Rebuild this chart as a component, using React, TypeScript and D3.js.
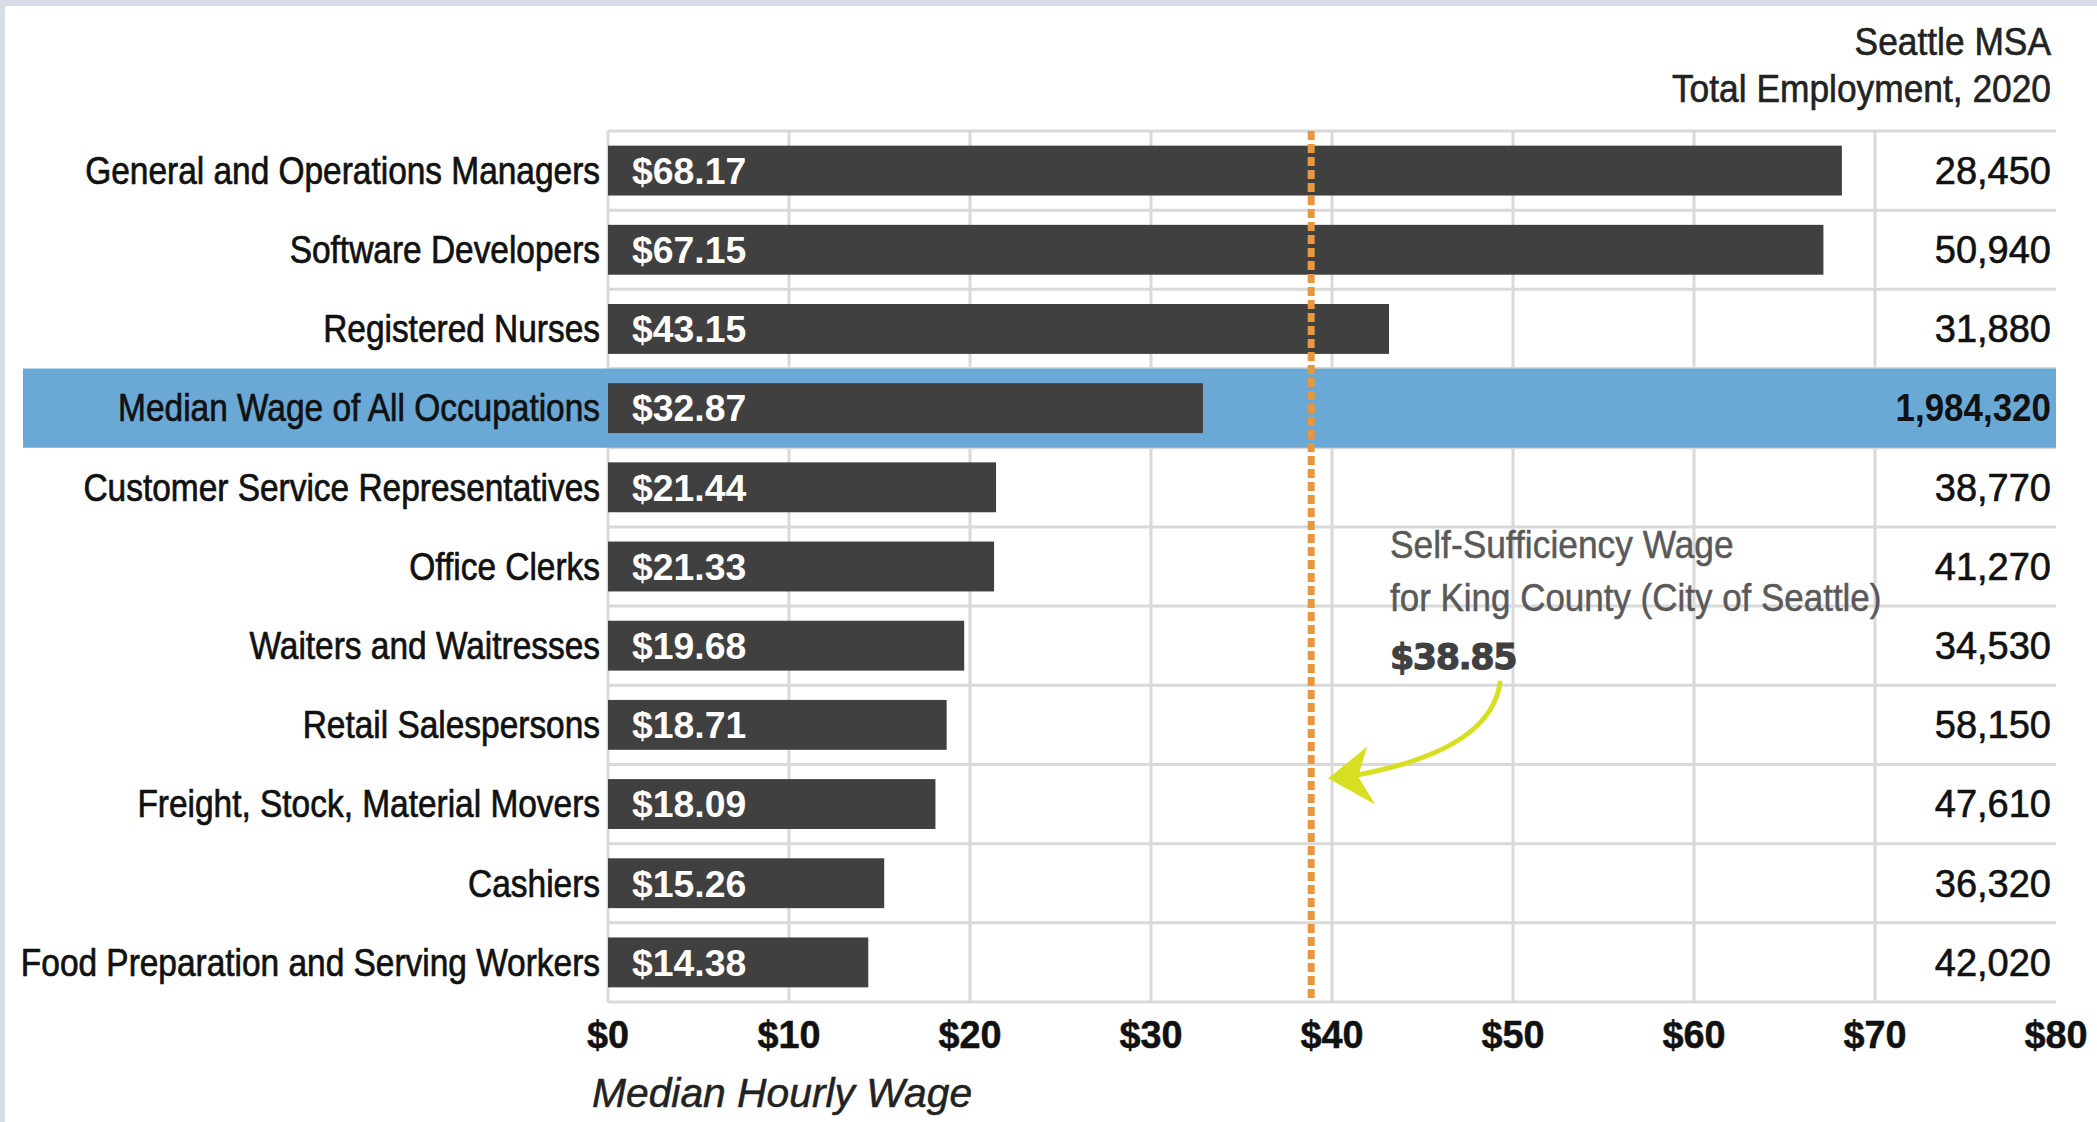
import * as d3 from "d3";
import type { ReactNode } from "react";

const categories = [
  "General and Operations Managers",
  "Software Developers",
  "Registered Nurses",
  "Median Wage of All Occupations",
  "Customer Service Representatives",
  "Office Clerks",
  "Waiters and Waitresses",
  "Retail Salespersons",
  "Freight, Stock, Material Movers",
  "Cashiers",
  "Food Preparation and Serving Workers",
];
const wages = [68.17, 67.15, 43.15, 32.87, 21.44, 21.33, 19.68, 18.71, 18.09, 15.26, 14.38];
const employment = [28450, 50940, 31880, 1984320, 38770, 41270, 34530, 58150, 47610, 36320, 42020];
const highlightCategory = "Median Wage of All Occupations";
const xTicks = [0, 10, 20, 30, 40, 50, 60, 70, 80];
const selfSufficiencyWage = 38.85;

const W = 2097;
const H = 1122;
const FONT = "'Liberation Sans', Arial, sans-serif";

// condensed look: the reference uses a narrow gothic face, so squeeze Liberation Sans horizontally
function T({
  x,
  y,
  sx = 1,
  anchor = "start",
  weight = 0,
  fill = "#111",
  children,
  ...rest
}: {
  x: number;
  y: number;
  sx?: number;
  anchor?: "start" | "middle" | "end";
  weight?: number;
  fill?: string;
  children: ReactNode;
  [k: string]: any;
}) {
  return (
    <text
      transform={`translate(${x},${y}) scale(${sx},1)`}
      textAnchor={anchor}
      fill={fill}
      stroke={weight ? fill : undefined}
      strokeWidth={weight || undefined}
      {...rest}
    >
      {children}
    </text>
  );
}

export default function App() {
  const x = d3.scaleLinear().domain([0, 80]).range([608, 2056]);
  const y = d3
    .scaleBand<string>()
    .domain(categories)
    .range([131, 1002])
    .paddingInner(0.37)
    .paddingOuter(0.185);
  const step = y.step();
  const cellTop = (c: string) => y(c)! - (y.paddingInner() * step) / 2;
  const mid = (c: string) => y(c)! + y.bandwidth() / 2;
  const fmt = d3.format(",");
  const [x0, x1] = x.range();
  const [yTop, yBot] = y.range();

  // annotation anchor next to the dashed line
  const ax = x(selfSufficiencyWage);
  const tipY = cellTop(categories[8]) + 12;
  const arrow = "#d7df23";

  return (
    <svg
      width={W}
      height={H}
      style={{ position: "absolute", left: 0, top: 0, fontFamily: FONT }}
    >
      <rect x={0} y={0} width={W} height={H} fill="#d6dde8" />
      <rect x={5} y={6} width={W - 5} height={H - 6} fill="#ffffff" />

      {/* header of the right column */}
      <T x={2051} y={55} sx={0.93} anchor="end" fontSize={38} fill="#222" weight={0.6}>
        Seattle MSA
      </T>
      <T x={2051} y={102} sx={0.93} anchor="end" fontSize={38} fill="#222" weight={0.6}>
        Total Employment, 2020
      </T>

      {/* gridlines */}
      {d3.range(categories.length + 1).map((k) => (
        <line
          key={"h" + k}
          x1={x0}
          x2={x1}
          y1={yTop + k * step}
          y2={yTop + k * step}
          stroke="#d9d9d9"
          strokeWidth={3}
        />
      ))}
      {xTicks.slice(0, -1).map((t) => (
        <line
          key={"v" + t}
          x1={x(t)}
          x2={x(t)}
          y1={yTop}
          y2={yBot}
          stroke="#d9d9d9"
          strokeWidth={3}
        />
      ))}

      {/* highlighted row */}
      <rect
        x={23}
        y={cellTop(highlightCategory)}
        width={x1 - 23}
        height={step}
        fill="#6aa8d6"
      />

      {/* bars, labels, values, employment */}
      {categories.map((c, i) => (
        <g key={c}>
          <rect
            x={x(0)}
            y={y(c)}
            width={x(wages[i]) - x(0)}
            height={y.bandwidth()}
            fill="#404040"
          />
          <T x={600} y={mid(c)} dy="0.35em" sx={0.88} anchor="end" fontSize={38} weight={0.7}>
            {c}
          </T>
          <T
            x={x(0) + 24}
            y={mid(c)}
            dy="0.36em"
            sx={1.01}
            fontSize={37}
            fontWeight="bold"
            fill="#ffffff"
          >
            {"$" + wages[i].toFixed(2)}
          </T>
          <T
            x={2051}
            y={mid(c)}
            dy="0.35em"
            sx={c === highlightCategory ? 0.92 : 1}
            anchor="end"
            fontSize={38}
            fontWeight={c === highlightCategory ? "bold" : "normal"}
            weight={c === highlightCategory ? 0 : 0.6}
          >
            {fmt(employment[i])}
          </T>
        </g>
      ))}

      {/* self-sufficiency wage line */}
      <line
        x1={ax}
        x2={ax}
        y1={yTop}
        y2={yBot}
        stroke="#ea973b"
        strokeWidth={7}
        strokeDasharray="9 4"
      />

      {/* annotation */}
      <T x={1390} y={558} sx={0.93} fontSize={38} fill="#595959" weight={0.5}>
        Self-Sufficiency Wage
      </T>
      <T x={1390} y={611} sx={0.92} fontSize={38} fill="#595959" weight={0.5}>
        for King County (City of Seattle)
      </T>
      <text
        x={1390}
        y={669}
        fontSize={35}
        fontWeight="bold"
        fill="#404040"
        stroke="#404040"
        strokeWidth={1}
        style={{ fontFamily: "'DejaVu Sans', sans-serif", letterSpacing: "-1.5px" }}
      >
        {"$" + selfSufficiencyWage.toFixed(2)}
      </text>
      <path
        d={`M1500,683 Q1490,752 ${ax + 38},${tipY}`}
        fill="none"
        stroke={arrow}
        strokeWidth={5}
        strokeLinecap="round"
      />
      <path
        d={`M${ax + 17},${tipY + 2} L${ax + 56},${tipY - 30} L${ax + 47},${tipY} L${ax + 64},${tipY + 28} Z`}
        fill={arrow}
      />

      {/* x axis */}
      {xTicks.map((t) => (
        <T
          key={"t" + t}
          x={x(t)}
          y={1048}
          sx={0.97}
          anchor="middle"
          fontSize={39}
          fontWeight="bold"
          weight={0.5}
        >
          {"$" + t}
        </T>
      ))}
      <T x={592} y={1107} sx={1.02} fontSize={40} fontStyle="italic" fill="#222" weight={0.5}>
        Median Hourly Wage
      </T>
    </svg>
  );
}
